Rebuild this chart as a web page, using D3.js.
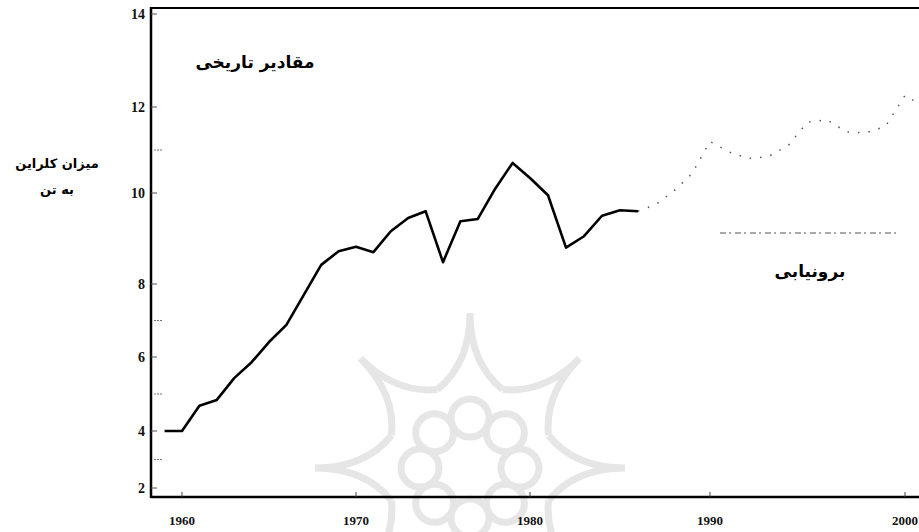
<!DOCTYPE html>
<html>
<head>
<meta charset="utf-8">
<script src="https://cdn.jsdelivr.net/npm/d3@7"></script>
<style>
body { margin: 0; background: #fff; }
</style>
</head>
<body>
<div id="chart"></div>
<script>
// historical values (tons)
var histYears = [1959,1960,1961,1962,1963,1964,1965,1966,1967,1968,1969,1970,1971,1972,1973,1974,1975,1976,1977,1978,1979,1980,1981,1982,1983,1984,1985,1986];
var histValues = [4.0,4.0,4.68,4.84,5.43,5.86,6.41,6.88,7.7,8.42,8.72,8.82,8.7,9.16,9.45,9.6,8.48,9.38,9.43,10.1,10.7,10.35,9.95,8.8,9.05,9.5,9.62,9.6];

// extrapolation
var projYears = [1986,1987,1988,1989,1990,1991,1992,1993,1994,1995,1996,1997,1998,1999,2000,2001];
var projValues = [9.6,9.75,10.05,10.45,11.2,10.95,10.8,10.85,11.1,11.65,11.7,11.42,11.4,11.55,12.25,12.0];

var xTicks = [1960,1970,1980,1990,2000];
var yTicks = [2,4,6,8,10,12,14];
var yMinor = [3,5,7,11];

var width = 919, height = 532;
var mLeft = 151, mTop = 8, mBottom = 497;

var svg = d3.select('#chart').append('svg')
    .attr('width', width)
    .attr('height', height);

// the scan is slightly stretched, so the scales follow the printed ticks
var x = d3.scaleLinear()
    .domain([1960,1970,1980,1990,2000])
    .range([182,356,530,710,905]);
var y = d3.scaleLinear()
    .domain([2,4,6,8,10,12,14])
    .range([488,431,357,284,193,107,14]);

// watermark from the scanned page
var wm = svg.append('g')
    .attr('transform', 'translate(470,468)')
    .attr('fill', 'none')
    .attr('stroke', '#e6e6e6')
    .attr('stroke-width', 7);
for (var i = 0; i < 8; i++) {
    var a = Math.PI * 2 / 8 * i - Math.PI / 2;
    wm.append('circle')
        .attr('cx', Math.cos(a) * 50)
        .attr('cy', Math.sin(a) * 50)
        .attr('r', 19);
    var a1 = a - Math.PI / 8, a2 = a + Math.PI / 8;
    var p = d3.path();
    p.moveTo(Math.cos(a1) * 85, Math.sin(a1) * 85);
    p.quadraticCurveTo(Math.cos(a) * 105, Math.sin(a) * 105, Math.cos(a) * 155, Math.sin(a) * 155);
    p.quadraticCurveTo(Math.cos(a) * 105, Math.sin(a) * 105, Math.cos(a2) * 85, Math.sin(a2) * 85);
    wm.append('path').attr('d', p.toString());
}

svg.append('clipPath').attr('id', 'plot')
    .append('rect')
    .attr('x', mLeft).attr('y', mTop)
    .attr('width', width - mLeft).attr('height', mBottom - mTop);

// frame: top line, left axis, bottom axis
svg.append('line')
    .attr('x1', mLeft).attr('x2', width)
    .attr('y1', mTop).attr('y2', mTop)
    .attr('stroke', '#000').attr('stroke-width', 2);
svg.append('line')
    .attr('x1', mLeft).attr('x2', mLeft)
    .attr('y1', mTop - 1).attr('y2', mBottom + 1)
    .attr('stroke', '#000').attr('stroke-width', 2.5);
svg.append('line')
    .attr('x1', mLeft).attr('x2', width)
    .attr('y1', mBottom).attr('y2', mBottom)
    .attr('stroke', '#000').attr('stroke-width', 2.5);

// y ticks
svg.selectAll('.ymaj').data(yTicks).enter().append('line')
    .attr('x1', mLeft).attr('x2', mLeft + 6)
    .attr('y1', function(d){ return y(d); })
    .attr('y2', function(d){ return y(d); })
    .attr('stroke', '#555').attr('stroke-width', 1);
svg.selectAll('.ymin').data(yMinor).enter().append('line')
    .attr('x1', mLeft + 3).attr('x2', mLeft + 12)
    .attr('y1', function(d){ return y(d); })
    .attr('y2', function(d){ return y(d); })
    .attr('stroke', '#777').attr('stroke-width', 1)
    .attr('stroke-dasharray', '2,1');
svg.selectAll('.ylab').data(yTicks).enter().append('text')
    .attr('x', mLeft - 6)
    .attr('y', function(d){ return y(d) + 5; })
    .attr('text-anchor', 'end')
    .attr('font-family', 'Liberation Serif, serif')
    .attr('font-weight', 'bold')
    .attr('font-size', 14)
    .attr('fill', '#111')
    .text(function(d){ return d; });

// x ticks
svg.selectAll('.xt').data(xTicks).enter().append('line')
    .attr('x1', function(d){ return x(d); })
    .attr('x2', function(d){ return x(d); })
    .attr('y1', mBottom).attr('y2', mBottom - 5)
    .attr('stroke', '#444').attr('stroke-width', 1);
svg.selectAll('.xlab').data(xTicks).enter().append('text')
    .attr('x', function(d){ return x(d); })
    .attr('y', 525)
    .attr('text-anchor', 'middle')
    .attr('font-family', 'Liberation Serif, serif')
    .attr('font-weight', 'bold')
    .attr('font-size', 13)
    .attr('fill', '#111')
    .text(function(d){ return d; });

var line = d3.line()
    .x(function(d){ return x(d[0]); })
    .y(function(d){ return y(d[1]); });

var plot = svg.append('g').attr('clip-path', 'url(#plot)');

plot.append('path')
    .datum(d3.zip(histYears, histValues))
    .attr('d', line)
    .attr('fill', 'none')
    .attr('stroke', '#000')
    .attr('stroke-width', 2.6)
    .attr('stroke-linejoin', 'round');

plot.append('path')
    .datum(d3.zip(projYears, projValues))
    .attr('d', line)
    .attr('fill', 'none')
    .attr('stroke', '#555')
    .attr('stroke-width', 1.5)
    .attr('stroke-dasharray', '1.5,9');

// labels
svg.append('text')
    .attr('x', 255).attr('y', 68)
    .attr('text-anchor', 'middle')
    .attr('font-family', 'DejaVu Sans, sans-serif')
    .attr('font-weight', 'bold')
    .attr('font-size', 17)
    .text('مقادیر تاریخی');

svg.append('line')
    .attr('x1', 720).attr('x2', 900)
    .attr('y1', 233).attr('y2', 233)
    .attr('stroke', '#555').attr('stroke-width', 1.2)
    .attr('stroke-dasharray', '6,3,2,4');

svg.append('text')
    .attr('x', 810).attr('y', 277)
    .attr('text-anchor', 'middle')
    .attr('font-family', 'DejaVu Sans, sans-serif')
    .attr('font-weight', 'bold')
    .attr('font-size', 17)
    .text('برونیابی');

svg.append('text')
    .attr('x', 57).attr('y', 168)
    .attr('text-anchor', 'middle')
    .attr('font-family', 'DejaVu Sans, sans-serif')
    .attr('font-weight', 'bold')
    .attr('font-size', 13)
    .text('میزان کلراین');
svg.append('text')
    .attr('x', 57).attr('y', 194)
    .attr('text-anchor', 'middle')
    .attr('font-family', 'DejaVu Sans, sans-serif')
    .attr('font-weight', 'bold')
    .attr('font-size', 13)
    .text('به تن');
</script>
</body>
</html>
